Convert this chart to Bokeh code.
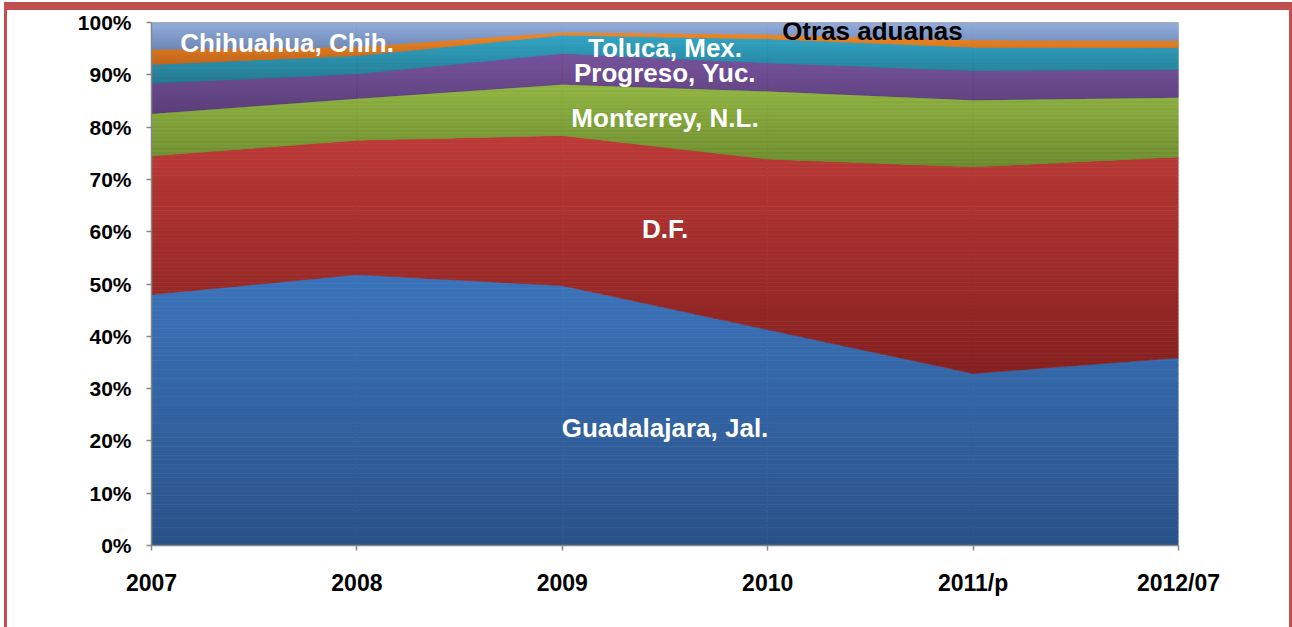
from bokeh.plotting import figure
from bokeh.models import FixedTicker, Label
from bokeh.embed import file_html
from bokeh.resources import INLINE

# ---------------- data (shares in %, 100% stacked) ----------------
years = ["2007", "2008", "2009", "2010", "2011/p", "2012/07"]
guadalajara = [48.0, 51.8, 49.7, 41.3, 32.9, 35.9]
df_mx = [26.5, 25.7, 28.7, 32.6, 39.5, 38.4]
monterrey = [8.1, 8.0, 9.8, 13.0, 12.8, 11.4]
progreso = [5.8, 4.7, 5.9, 5.4, 5.6, 5.3]
toluca = [3.6, 3.5, 3.5, 4.6, 4.5, 4.2]
chihuahua = [2.9, 1.7, 0.6, 0.9, 1.4, 1.4]
otras = [5.1, 4.6, 1.8, 2.2, 3.3, 3.4]

series_names = ["Guadalajara, Jal.", "D.F.", "Monterrey, N.L.", "Progreso, Yuc.",
                "Toluca, Mex.", "Chihuahua, Chih.", "Otras aduanas"]
series_vals = [guadalajara, df_mx, monterrey, progreso, toluca, chihuahua, otras]
# gradient colours (top, bottom) per series
top_colors = ["#3B74BB", "#BC3A37", "#90B441", "#734F9A", "#31A4C4", "#EE8A2A", "#93AEDD"]
bot_colors = ["#2A5289", "#84201F", "#6B8A2D", "#563A76", "#23788F", "#C2651A", "#6F88B6"]
y_ticks = [0, 10, 20, 30, 40, 50, 60, 70, 80, 90, 100]

FONT = "Liberation Sans"

xs = list(range(len(years)))

W, H = 1288, 625
p = figure(width=W, height=H, output_backend="svg", toolbar_location=None,
           x_range=(0, len(years) - 1), y_range=(0, 100), title=None,
           min_border_left=144, min_border_right=117, min_border_top=12,
           min_border_bottom=90)
p.styles = {"margin-left": "4px", "margin-top": "2px", "overflow": "hidden",
            "border-left": "3px solid #C0504D", "border-right": "3px solid #C0504D",
            "border-top": "8px solid #C0504D"}
p.outline_line_color = None
p.background_fill_color = "white"
p.border_fill_color = "white"
p.xgrid.visible = False
p.ygrid.visible = False


def hexrgb(h):
    return tuple(int(h[i:i + 2], 16) for i in (1, 3, 5))


def mix(c1, c2, t):
    a, b = hexrgb(c1), hexrgb(c2)
    return "#%02x%02x%02x" % tuple(round(a[k] + (b[k] - a[k]) * t) for k in range(3))


def clip(poly, yv, keep_above):
    out = []
    n = len(poly)
    for i in range(n):
        cx, cy = poly[i]
        px, py = poly[i - 1]
        cin = cy >= yv if keep_above else cy <= yv
        pin = py >= yv if keep_above else py <= yv
        if cin:
            if not pin and cy != py:
                t = (yv - py) / (cy - py)
                out.append((px + t * (cx - px), yv))
            out.append((cx, cy))
        elif pin and cy != py:
            t = (yv - py) / (cy - py)
            out.append((px + t * (cx - px), yv))
    return out


# stacked areas with a vertical gradient: each x-segment is a convex trapezoid,
# sliced into horizontal strips of gradually changing colour
lower = [0.0] * len(xs)
N = 60
for vals, ct, cb in zip(series_vals, top_colors, bot_colors):
    upper = [l + v for l, v in zip(lower, vals)]
    ymin, ymax = min(lower), max(upper)
    pxs, pys, cols = [], [], []
    for i in range(len(xs) - 1):
        trap = [(xs[i], lower[i]), (xs[i + 1], lower[i + 1]),
                (xs[i + 1], upper[i + 1]), (xs[i], upper[i])]
        for k in range(N):
            a = ymin + (ymax - ymin) * k / N
            b = ymin + (ymax - ymin) * (k + 1) / N
            pc = clip(clip(trap, a, True), b, False)
            if len(pc) < 3:
                continue
            pxs.append([q[0] for q in pc])
            pys.append([q[1] for q in pc])
            t = 1 - ((a + b) / 2 - ymin) / (ymax - ymin)
            cols.append(mix(ct, cb, t))
    p.patches(pxs, pys, fill_color=cols, line_color=cols, line_width=0.7)
    lower = upper

# top edge of plot area
p.line(xs, lower, line_color="#9A9A9A", line_width=1.5)

# axes
p.xaxis.ticker = FixedTicker(ticks=xs)
p.xaxis.major_label_overrides = {i: y for i, y in enumerate(years)}
p.yaxis.ticker = FixedTicker(ticks=y_ticks)
p.yaxis.major_label_overrides = {t: f"{t}%" for t in y_ticks}
for ax in (p.xaxis[0], p.yaxis[0]):
    ax.axis_line_color = "#868686"
    ax.axis_line_width = 1.5
    ax.major_tick_line_color = "#868686"
    ax.major_tick_line_width = 1.5
    ax.minor_tick_line_color = None
    ax.major_tick_in = 0
    ax.major_tick_out = 5
    ax.major_label_text_font = FONT
    ax.major_label_text_font_style = "bold"
    ax.major_label_text_color = "black"
p.xaxis.major_label_text_font_size = "23px"
p.xaxis.major_label_standoff = 19
p.yaxis.major_label_text_font_size = "21px"
p.yaxis.major_label_standoff = 15

# in-chart labels
label_x = [2.5, 2.5, 2.5, 2.5, 2.5, 0.66, 3.51]
label_y = [22.5, 60.6, 81.8, 90.4, 95.2, 96.1, 98.4]
label_c = ["white"] * 6 + ["black"]
for name, lx, ly, lc in zip(series_names, label_x, label_y, label_c):
    p.add_layout(Label(x=lx, y=ly, text=name, text_align="center", text_baseline="middle",
                       text_font=FONT, text_font_style="bold", text_font_size="26px",
                       text_color=lc))

open("out.html", "w").write(file_html(p, INLINE))
